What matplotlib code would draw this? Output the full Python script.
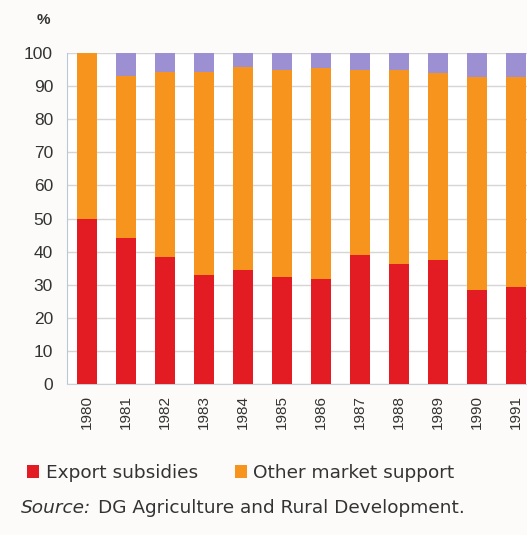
import matplotlib.pyplot as plt
import numpy as np

plt.rcParams['font.family'] = ['Liberation Sans', 'DejaVu Sans']

years = ["1980", "1981", "1982", "1983", "1984", "1985",
         "1986", "1987", "1988", "1989", "1990", "1991"]
export_subsidies = [50, 44, 38.5, 33, 34.6, 32.2, 31.7, 39, 36.2, 37.5, 28.4, 29.4]
other_support = [50, 49, 55.8, 61.3, 61.3, 62.7, 63.7, 55.9, 58.7, 56.5, 64.4, 63.2]
rest = [0, 7, 5.7, 5.7, 4.1, 5.1, 4.6, 5.1, 5.1, 6.0, 7.2, 7.4]

red = '#e31b23'
orange = '#f7941d'
purple = '#9d90d2'
txt = '#333333'

fig = plt.figure(figsize=(5.27, 5.35), dpi=100, facecolor='#fcfbf9')
ax = fig.add_axes([0.127, 0.282, 0.873, 0.619])
ax.set_facecolor('white')

x = np.arange(len(years))
w = 0.51
ax.bar(x, export_subsidies, w, color=red, label='Export subsidies', zorder=3)
ax.bar(x, other_support, w, bottom=export_subsidies, color=orange,
       label='Other market support', zorder=3)
base = np.array(export_subsidies) + np.array(other_support)
ax.bar(x, rest, w, bottom=base, color=purple, zorder=3)

ax.set_ylim(0, 100)
ax.set_xlim(-0.51, 11.28)
ax.set_yticks(range(0, 101, 10))
ax.set_xticks(x)
ax.set_xticklabels(years, rotation=90, fontsize=11, color=txt)
ax.tick_params(axis='y', labelsize=12.5, colors=txt, length=0, pad=10)
ax.tick_params(axis='x', length=0, pad=8)
ax.yaxis.grid(True, color='#d5d5d5', linewidth=1, zorder=0)

for s in ['top', 'right']:
    ax.spines[s].set_visible(False)
ax.spines['left'].set_color('#b8c8d8')
ax.spines['bottom'].set_color('#c8d0d8')

fig.text(0.082, 0.962, '%', fontsize=11, color=txt, fontweight='bold',
         ha='center', va='center')

fig.legend(loc='center left', bbox_to_anchor=(0.02, 0.116), ncol=2, frameon=False,
           prop={'family': 'DejaVu Sans', 'size': 13.3},
           handlelength=0.65, handleheight=0.65, handletextpad=0.35,
           columnspacing=2.0, labelcolor=txt)

# source line: italic label followed by the plain text
src = fig.text(0.04, 0.05, 'Source:', fontsize=13.3, style='italic', color=txt,
               va='center', family='DejaVu Sans')
fig.canvas.draw()
bb = src.get_window_extent().transformed(fig.transFigure.inverted())
fig.text(bb.x1 + 0.012, 0.05, 'DG Agriculture and Rural Development.', fontsize=13.3,
         color=txt, va='center', family='DejaVu Sans')

fig.savefig('out.png', dpi=100, facecolor=fig.get_facecolor())
